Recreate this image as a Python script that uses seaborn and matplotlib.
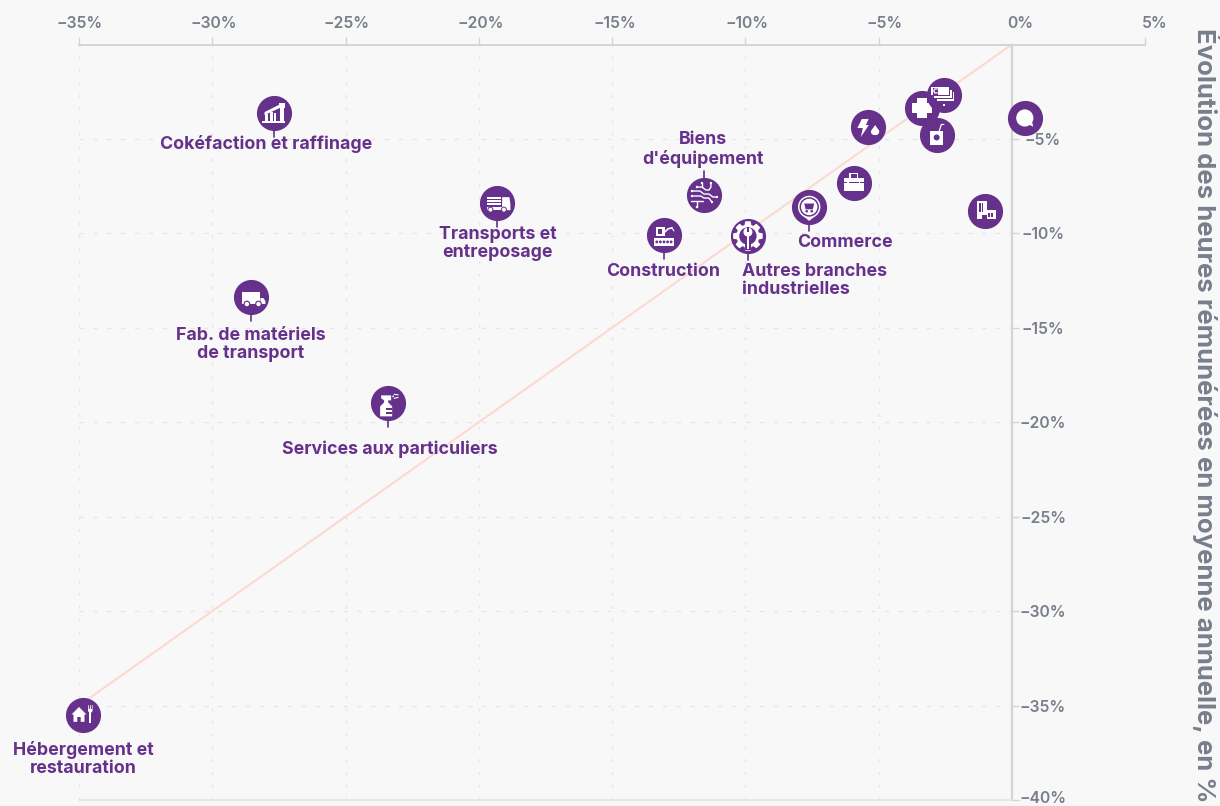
import numpy as np
import pandas as pd
import matplotlib
matplotlib.use("Agg")
import matplotlib.pyplot as plt
import seaborn as sns
from matplotlib.patches import PathPatch, Circle, Rectangle, Polygon
from matplotlib.path import Path
from matplotlib.transforms import Affine2D, ScaledTranslation

# ---------- data ----------
branches = ["Cokéfaction et raffinage", "Transports et\nentreposage", "Fab. de matériels\nde transport",
            "Services aux particuliers", "Hébergement et\nrestauration", "Construction",
            "Biens\nd'équipement", "Autres branches\nindustrielles", "Commerce",
            "Tertiaire", "Énergie", "Santé", "Finance", "Agroalimentaire", "Information", "Immobilier"]
evol_x = [-27.7, -19.3, -28.55, -23.4, -34.85, -13.05, -11.55, -9.9, -7.6, -5.93, -5.4, -3.38, -2.55, -2.81, 0.49, -1.01]
evol_y = [-3.63, -8.4, -13.37, -19.0, -35.5, -10.08, -7.97, -10.14, -8.6, -7.33, -4.37, -3.36, -2.67, -4.79, -3.89, -8.79]
icons = ["pump", "truck", "van", "spray", "food", "crane", "circuit", "gear", "shop",
         "case", "energy", "cross", "money", "juice", "speech", "city"]
draw_order = [0, 1, 2, 3, 4, 5, 6, 7, 8, 9, 10, 11, 12, 13, 14, 15]
xticks = [-35, -30, -25, -20, -15, -10, -5, 0, 5]
yticks = [-5, -10, -15, -20, -25, -30, -35, -40]
xtick_shift = [1, 2, 1, 2, 3, 2, 6, 9, 10]
ytick_shift = [0, 0, 0, 0, 0, 0, 0, 3]
diag = [-35, 0]
ylabel_text = "Évolution des heures rémunérées en moyenne annuelle, en %"

# label: (dx px, dy px (down), ha) relative to the point
label_pos = {0: (-7, 30, "center"), 1: (0, 39, "center"), 2: (0, 46, "center"), 3: (2, 45, "center"),
             4: (0, 43, "center"), 5: (-1, 36, "center"), 6: (-1, -46.5, "center"),
             7: (-6, 43.5, "left"), 8: (36, 35, "center")}
stem_dir = {0: 1, 1: 1, 2: 1, 3: 1, 4: 0, 5: 1, 6: -1, 7: 1, 8: 1}

PURPLE = "#65318b"
BG = "#f8f8f8"
TICK = "#787e8a"
GRID = "#e6e6e8"
AXIS = "#d3d3da"
LABEL_FONT = ["Inter", "DejaVu Sans"]

sns.set_theme(style="white")
plt.rcParams["font.family"] = LABEL_FONT

W, H = 1220, 806
fig = plt.figure(figsize=(W / 100, H / 100), dpi=100, facecolor=BG)
ax = fig.add_axes([79 / W, 1 - 800 / H, (1145 - 79) / W, (800 - 44.5) / H], facecolor=BG)
ax.set_xlim(-35, 5)
ax.set_ylim(-40, 0)

# ---------- grid ----------
ax.vlines([t for t in xticks if t < 0], -40, 0, color=GRID, lw=1, linestyles=[(0, (2.2, 7))], zorder=1)
ax.hlines([t for t in yticks if t > -40], -35, 0, color=GRID, lw=1, linestyles=[(0, (3, 7))], zorder=1)

sns.lineplot(x=diag, y=diag, ax=ax, color="#fdd9d2", lw=1.5, zorder=2, legend=False)

# ---------- icon helpers (px around the point, y down) ----------
def local(x, y):
    return Affine2D().scale(1, -1) + ScaledTranslation(x, y, ax.transData)

def circ(cx, cy, r, c="w"):
    return Circle((cx, cy), r, fc=c, ec="none")

def rect(x, y, w, h, c="w"):
    return Rectangle((x, y), w, h, fc=c, ec="none")

def poly(pts, c="w"):
    return Polygon(pts, closed=True, fc=c, ec="none")

def line(pts, c="w", lw=1.0):
    return PathPatch(Path(pts), fc="none", ec=c, lw=lw, capstyle="round", joinstyle="round")

P = PURPLE

def icon_parts(kind):
    if kind == "pump":
        return [rect(-11.7, 8, 23.4, 2.2),
                poly([(-9, -1), (6, -8.5), (6, -5), (-9, 2)]), rect(5, -10.5, 6, 5.5),
                rect(-9, 1, 3.2, 7), rect(-4, -1, 3, 9), rect(0.5, 0, 1.6, 8),
                rect(6, -5, 4.5, 13)]
    if kind == "truck":
        return [rect(-10, -6, 13.5, 1.8), rect(-10, -3, 13.5, 1.8), rect(-10, 0, 13.5, 1.8),
                rect(-10, 3.4, 14.5, 3.2), poly([(4.7, -6), (12, -6), (13, 1), (13, 7), (4.7, 7)]),
                circ(-7, 6.5, 3, P), circ(-7, 6.5, 2), circ(6.5, 6.5, 3, P), circ(6.5, 6.5, 2)]
    if kind == "van":
        return [rect(-9, -5, 18, 12), poly([(9.5, 1), (12.5, 1), (14.5, 4), (14.5, 7), (9.5, 7)]),
                circ(-4, 7, 3.4, P), circ(-4, 7, 2.2), circ(7.6, 7, 3.4, P), circ(7.6, 7, 2.2)]
    if kind == "spray":
        return [poly([(-7, -8), (3, -8), (3, -3), (0, -3), (0, -1), (4, 3), (4, 13), (-8, 13), (-8, 3), (-4, -1), (-4, -3), (-7, -5)]),
                rect(-2, 5, 6, 1.5, P), rect(-2, 9, 6, 1.5, P),
                line([(6, -9), (10, -8.5)], lw=.8), line([(6, -5), (10, -6)], lw=.8), circ(5, -7, .9)]
    if kind == "food":
        return [poly([(-11.5, -0.5), (-4, -8), (3.5, -0.5), (1.5, -0.5), (1.5, 6.8), (-2.3, 6.8), (-2.3, 2), (-5.7, 2), (-5.7, 6.8), (-9.5, 6.8), (-9.5, -0.5)]),
                rect(6.4, -3, 1.9, 11), poly([(5, -10), (5.6, -10), (5.9, -6), (6.8, -6), (7, -10), (7.7, -10), (7.9, -6), (8.8, -6), (9, -10), (9.6, -10), (9.6, -4), (8, -2), (6.6, -2), (5, -4)])]
    if kind == "crane":
        return [rect(-8, -8, 9, 9.5), rect(-5.5, -5.5, 4, 4.5, P), line([(1, -3), (4, -6), (8, -7)], lw=1.2), line([(8, -7), (10, -4)], lw=.8),
                rect(-10, 3, 20, 8), *[circ(cx, 7, 1.4, P) for cx in (-7.2, -3.6, 0, 3.6, 7.2)]]
    if kind == "circuit":
        parts = [line([(-12, -4), (-4, -4), (0, -1), (5, -1), (9, 2), (13, 2)]),
                 line([(-12, 1), (-3, 1), (0, 3), (5, 3), (8, 7)]),
                 line([(-7, -8), (-2, -8), (2, -5), (5, -5), (7, -8), (7, -12)]),
                 line([(-7, 6), (-7, 8), (-7, 12)]), line([(-13, 6), (-1, 6)]),
                 line([(-2, -12), (-2, -8)])]
        parts += [circ(a, b, 1.2) for a, b in [(-12, -4), (-12, 1), (-7, 12), (13, 2), (8, 7), (7, -12), (-2, -12), (-7, -8)]]
        return parts
    if kind == "gear":
        pts = []
        n = 8
        for i in range(n):
            a = 2 * np.pi * i / n
            for da, r in [(-.30, 11.5), (-.18, 15), (.18, 15), (.30, 11.5)]:
                pts.append((r * np.sin(a + da), -r * np.cos(a + da)))
        return [poly(pts), circ(0, 0, 8.7, P),
                circ(0, -4, 4.5), rect(-1.4, -9, 2.8, 5, P), rect(-2.8, 5, 5.6, 9, P), rect(-1.3, -1, 2.6, 14)]
    if kind == "shop":
        return [poly([(-6.8, 8.4), (0, 14), (6.8, 8.4)]), circ(0, 0, 11.2), circ(0, 0, 9.7, P), circ(0, 0, 8.2),
                poly([(-5, -3.4), (5, -3.4), (3.6, 2.4), (-3.6, 2.4)], P), circ(-2.5, 4.3, 1.3, P), circ(2.5, 4.3, 1.3, P)]
    if kind == "case":
        return [rect(-10, -5, 20, 13), rect(-4.5, -10, 9, 5), rect(-3, -8.5, 6, 3.5, P),
                rect(-10, -.8, 20, 1, P), rect(-6.5, -1.8, 1.5, 2.4), rect(5, -1.8, 1.5, 2.4)]
    if kind == "energy":
        return [poly([(-6, -8), (0.8, -8), (-2, -2), (1, -2), (-7, 10), (-5, 1), (-10.5, 1)]),
                poly([(7.3, -2), (11.5, 4), (11, 6.5), (9, 8), (5.5, 8), (3.5, 6.5), (3, 4)])]
    if kind == "cross":
        return [rect(-10, -4.7, 20, 9.4), rect(-5, -9.8, 10, 19.6)]
    if kind == "money":
        out = []
        for dx, dy in [(4.5, 5), (2, 2.4), (-1, -.5)]:
            out.append(rect(-11.5 + dx - 1, -7.5 + dy - 1, 17.5 + 2, 8.5 + 2, P))
            out.append(rect(-11.5 + dx, -7.5 + dy, 17.5, 8.5))
        out.append(rect(-11, -6.6, 5.5, 6.6, P))
        out.append(line([(-6.5, -6), (-9, -6), (-10, -4), (-9, -2), (-6.5, -2)], lw=.9))
        out.append(rect(-1, 9, 2.5, 2))
        return out
    if kind == "juice":
        return [rect(-6.7, -4.3, 13, 14.3), circ(-.2, 2.5, 3, P), line([(2.5, -4.5), (4.5, -10.5), (7, -10.5)], lw=.9)]
    if kind == "speech":
        return [circ(0, 0, 8.6), poly([(3, 6), (8.5, 8.8), (7, 3)])]
    if kind == "city":
        return [rect(-8, -9.3, 10, 17.3), rect(2, -1, 9.5, 9),
                rect(-6, -7.5, 1.8, 9, P), rect(-3.2, -7.5, 1.8, 9, P),
                rect(3.2, 2, 1.8, 4.4, P), rect(6.6, 2, 1.8, 4.4, P), rect(-3, 4.3, 5, 4, P)]
    return []

# ---------- points ----------
for z, i in enumerate(draw_order):
    zbase = 3 + z
    if i in stem_dir and stem_dir[i] != 0:
        s = stem_dir[i]
        st = line([(0, s * 16), (0, s * 24)], c=PURPLE, lw=1.2)
        st.set_transform(local(evol_x[i], evol_y[i]))
        st.set_zorder(zbase - .2)
        st.set_clip_on(False)
        ax.add_patch(st)
    sns.scatterplot(x=[evol_x[i]], y=[evol_y[i]], ax=ax, s=640, color=PURPLE, linewidth=0,
                    zorder=zbase, clip_on=False, legend=False)
    for p in icon_parts(icons[i]):
        p.set_transform(local(evol_x[i], evol_y[i]))
        p.set_zorder(zbase + .5)
        p.set_clip_on(False)
        ax.add_patch(p)

# ---------- labels ----------
for i, (dx, dy, ha) in label_pos.items():
    ax.annotate(branches[i], (evol_x[i], evol_y[i]), xytext=(dx, -dy - 1), textcoords="offset pixels",
                ha=ha, va="center", multialignment=ha, color=PURPLE, fontsize=12.8, fontweight="bold",
                linespacing=1.08, zorder=40, annotation_clip=False)

# ---------- axes ----------
ax.spines["left"].set_visible(False)
ax.spines["right"].set_position(("data", 0))
ax.spines["right"].set_color(AXIS)
ax.spines["right"].set_linewidth(1.6)
ax.spines["top"].set_color(AXIS)
ax.spines["top"].set_linewidth(1.4)
ax.spines["bottom"].set_color("#e3e3e8")
ax.spines["bottom"].set_linewidth(1.2)
ax.spines["bottom"].set_bounds(-35, 0)

ax.xaxis.tick_top()
ax.set_xticks(xticks)
ax.set_xticklabels([f"{t}%".replace("-", "\u2212") for t in xticks], color=TICK, fontsize=11.3, fontweight="semibold")
ax.tick_params(axis="x", length=6, width=1, color=AXIS, pad=4)
for sh, lb in zip(xtick_shift, ax.get_xticklabels()):
    lb.set_transform(lb.get_transform() + Affine2D().translate(sh, 0))
ax.xaxis.get_major_ticks()[xticks.index(0)].tick2line.set_visible(False)

ax.yaxis.tick_right()
ax.set_yticks(yticks)
ax.set_yticklabels([f"{t}%".replace("-", "\u2212") for t in yticks], color=TICK, fontsize=11.3, fontweight="semibold", ha="center")
ax.tick_params(axis="y", length=5, width=1, color=AXIS, pad=17.5)
for sh, lb in zip(ytick_shift, ax.get_yticklabels()):
    lb.set_transform(lb.get_transform() + Affine2D().translate(0, sh))
ax.set_xlabel("")
ax.yaxis.set_label_position("right")
ax.set_ylabel(ylabel_text, rotation=270, color=TICK, fontsize=18.5, fontweight="bold", va="center", ha="center")
ax.yaxis.set_label_coords((1206 - 79) / (1145 - 79), (800 - 415) / (800 - 44.5))

fig.savefig("out.png", dpi=100, facecolor=BG)
